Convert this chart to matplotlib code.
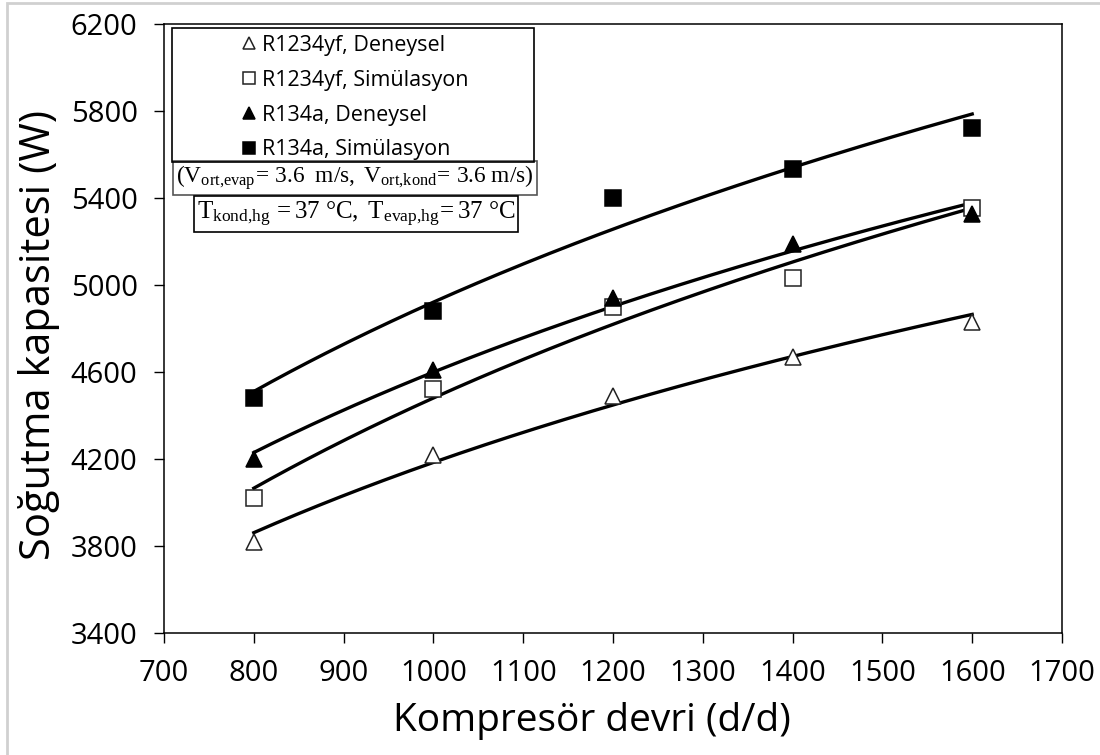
import numpy as np
import matplotlib
matplotlib.use("Agg")
import matplotlib.pyplot as plt
from matplotlib.patches import Rectangle

plt.rcParams['font.family'] = ['Open Sans', 'DejaVu Sans']
plt.rcParams['mathtext.fontset'] = 'custom'
plt.rcParams['mathtext.rm'] = 'Liberation Serif'
plt.rcParams['mathtext.it'] = 'Liberation Serif:italic'

# compressor speed (d/d)
speed = [800, 1000, 1200, 1400, 1600]

# cooling capacity (W)
r1234yf_exp = [3820, 4220, 4490, 4670, 4830]
r1234yf_sim = [4020, 4520, 4900, 5030, 5355]
r134a_exp = [4200, 4610, 4940, 5190, 5325]
r134a_sim = [4480, 4880, 5400, 5535, 5720]

labels = ['R1234yf, Deneysel', 'R1234yf, Simülasyon',
          'R134a, Deneysel', 'R134a, Simülasyon']

fig = plt.figure(figsize=(11, 7.55), dpi=100)
ax = fig.add_axes([164 / 1100, 1 - 633 / 755, 898 / 1100, 609 / 755])

# light grey frame of the original picture
fig.patches.append(Rectangle((7 / 1100, -0.1), 1.2, (755 - 3) / 755 + 0.1,
                             transform=fig.transFigure, fill=False,
                             ec='#d0d0d0', lw=2))

series = [r1234yf_exp, r1234yf_sim, r134a_exp, r134a_sim]
markers = ['^', 's', '^', 's']
faces = ['white', 'white', 'black', 'black']

x = np.array(speed, dtype=float)
xs = np.linspace(x.min(), x.max(), 200)
handles = []
for vals, m, fc, lab in zip(series, markers, faces, labels):
    # logarithmic trend line
    b, a = np.polyfit(np.log(x), vals, 1)
    ax.plot(xs, a + b * np.log(xs), color='black', lw=2.4, zorder=2)
    h, = ax.plot(x, vals, ls='none', marker=m, ms=12, mfc=fc,
                 mec='#222222' if fc == 'white' else 'black', mew=1.1,
                 label=lab, zorder=3)
    handles.append(h)

ax.set_xlim(700, 1700)
ax.set_ylim(3400, 6200)
ax.set_xticks(np.arange(700, 1701, 100))
ax.set_yticks(np.arange(3400, 6201, 400))
ax.tick_params(direction='out', length=7, width=1, labelsize=21, pad=12)
for s in ax.spines.values():
    s.set_linewidth(1.1)

ax.set_xlabel('Kompresör devri (d/d)', fontsize=28)
ax.xaxis.set_label_coords((592 - 164) / 898, -(702 - 633) / 609)
ax.set_ylabel('Soğutma kapasitesi (W)', fontsize=30)
ax.yaxis.set_label_coords(-(164 - 60) / 898, 0.49)

tr = ax.transAxes
# legend in a separate frame
ax.add_patch(Rectangle(((172 - 164) / 898, (633 - 162) / 609), 362 / 898, 134 / 609,
                       transform=tr, fill=False, ec='black', lw=1.2, zorder=4))
leg = ax.legend(handles=handles, loc='upper left', frameon=False, fontsize=15.5,
                markerscale=0.75, handlelength=0.6, handletextpad=0.3,
                labelspacing=0.64, borderaxespad=0, borderpad=0,
                bbox_to_anchor=((243 - 164) / 898, (633 - 35) / 609))

ax.text((355 - 164) / 898, (633 - 178) / 609,
        r'$\mathrm{(V_{ort{,}evap}\!=\,3.6\ \ m/s,\ V_{ort{,}kond}\!=\,3.6\ m/s)}$',
        transform=tr, ha='center', va='center', fontsize=16.8,
        bbox=dict(boxstyle='square,pad=0.12', fc='white', ec='#555555', lw=1.2))
ax.text((356 - 164) / 898, (633 - 214) / 609,
        r'$\mathrm{T_{kond{,}hg}\,=37\ °C,\ T_{evap{,}hg}\!=37\ °C}$',
        transform=tr, ha='center', va='center', fontsize=18,
        bbox=dict(boxstyle='square,pad=0.12', fc='white', ec='black', lw=1.2))

fig.savefig('out.png', dpi=100)
